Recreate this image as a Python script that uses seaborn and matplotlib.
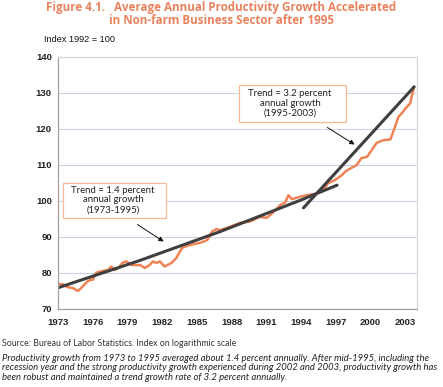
import matplotlib
matplotlib.use("Agg")
import matplotlib.pyplot as plt
from matplotlib.patches import Rectangle
from matplotlib.ticker import MultipleLocator
import seaborn as sns
import pandas as pd

# productivity index (1992 = 100)
years = [1973.0, 1973.4, 1973.8, 1974.3, 1974.7, 1975.0, 1975.5, 1975.8, 1976.0, 1976.3,
         1976.9, 1977.3, 1977.6, 1977.9, 1978.2, 1978.6, 1978.9, 1979.4, 1980.1, 1980.5,
         1980.9, 1981.2, 1981.5, 1981.8, 1982.2, 1982.8, 1983.2, 1983.7, 1984.1, 1984.7,
         1985.3, 1985.9, 1986.3, 1986.7, 1987.0, 1987.9, 1988.7, 1989.6, 1990.4, 1991.0,
         1991.5, 1992.2, 1992.6, 1992.9, 1993.2, 1993.9, 1994.5, 1995.4, 1995.9, 1996.3,
         1996.9, 1997.4, 1997.9, 1998.4, 1998.8, 1999.2, 1999.7, 2000.1, 2000.5, 2001.1,
         2001.7, 2001.9, 2002.4, 2002.7, 2003.0, 2003.4, 2003.75]
index = [76.9, 76.9, 76.1, 75.8, 75.0, 75.8, 77.5, 78.1, 78.1, 80.1,
         80.6, 80.8, 81.8, 80.8, 81.4, 82.9, 83.2, 82.2, 82.2, 81.4,
         82.2, 83.2, 82.8, 83.2, 81.8, 82.8, 84.1, 86.9, 87.5, 88.0,
         88.4, 89.2, 91.5, 92.2, 91.9, 92.9, 93.9, 94.3, 95.6, 95.3,
         96.6, 98.9, 99.5, 101.6, 100.5, 101.2, 101.6, 102.1, 102.9, 104.9,
         105.8, 106.9, 108.4, 109.3, 110.0, 111.9, 112.3, 114.2, 116.1, 116.9,
         117.1, 118.8, 123.4, 124.4, 125.7, 127.1, 131.8]

# trend lines
trend1_years = [1973.0, 1980.0, 1987.0, 1994.0, 1997.1]
trend1_vals = [75.9, 83.4, 91.5, 100.3, 104.4]
trend2_years = [1994.2, 2003.75]
trend2_vals = [98.1, 131.7]

xtick_years = list(range(1973, 2004, 3))
ytick_vals = list(range(70, 141, 10))

orange = "#ef8354"
title_orange = "#e9825d"
dark = "#3f3f3f"

sns.set_style("white")
plt.rcParams["font.family"] = ["Lato", "DejaVu Sans"]

W, H = 443, 387
fig = plt.figure(figsize=(W / 100, H / 100), dpi=100)
ax = fig.add_axes([58 / W, 1 - 309 / H, (417 - 58) / W, (309 - 57) / H])

df = pd.DataFrame({"year": years, "index": index})
sns.lineplot(data=df, x="year", y="index", ax=ax, color=orange, linewidth=1.8)
sns.lineplot(x=trend1_years, y=trend1_vals, ax=ax, color=dark, linewidth=2.2)
sns.lineplot(x=trend2_years, y=trend2_vals, ax=ax, color=dark, linewidth=2.2)

ax.set_xlim(1973, 2004)
ax.set_ylim(70, 140)
ax.set_xticks(xtick_years)
ax.set_xticklabels([str(y) for y in xtick_years], fontsize=6.8, fontweight="bold",
                   family=["Liberation Sans", "DejaVu Sans"])
ax.xaxis.set_minor_locator(MultipleLocator(0.25))
ax.set_yticks(ytick_vals)
ax.set_yticklabels([str(v) for v in ytick_vals], fontsize=6.8, fontweight="bold",
                   family=["Liberation Sans", "DejaVu Sans"])
ax.tick_params(axis="x", which="both", direction="out", length=2.5, width=0.6,
               color="#a0a0a0", pad=4, labelcolor="#222222")
ax.tick_params(axis="x", which="minor", length=2)
ax.tick_params(axis="y", which="major", direction="out", length=2.5, width=0.6,
               color="#a0a0a0", pad=2, labelcolor="#222222")
ax.grid(axis="y", color="#c9d3e6", linewidth=0.8)
ax.set_axisbelow(True)
ax.set_xlabel("")
ax.set_ylabel("")
for side in ["left", "bottom"]:
    ax.spines[side].set_color("#a0a0a0")
    ax.spines[side].set_linewidth(0.9)
for side in ["top", "right"]:
    ax.spines[side].set_color("#d6d6d6")
    ax.spines[side].set_linewidth(0.9)


def fx(px):
    return px / W


def fy(py):
    return 1 - py / H


# annotation boxes
for (x0, y0, x1, y1), label, cx, cy in [
    ((63, 183, 166, 218), "Trend = 1.4 percent\nannual growth\n(1973-1995)", 113, 200),
    ((239, 85, 346, 122), "Trend = 3.2 percent\nannual growth\n(1995-2003)", 290, 103),
]:
    fig.add_artist(Rectangle((fx(x0), fy(y1)), fx(x1 - x0), (y1 - y0) / H,
                             transform=fig.transFigure, facecolor="white",
                             edgecolor="#f4b999", linewidth=0.9, zorder=5))
    fig.text(fx(cx), fy(cy), label, ha="center", va="center", fontsize=6.9,
             color="#222222", linespacing=1.1, zorder=6)

for (sx, sy), (ex, ey) in [((135, 223), (166, 243)), ((325, 126), (357, 146))]:
    ax.annotate("", xy=(fx(ex), fy(ey)), xycoords="figure fraction",
                xytext=(fx(sx), fy(sy)), textcoords="figure fraction",
                arrowprops=dict(arrowstyle="-|>", color="#111111", lw=0.7,
                                mutation_scale=7))

fig.text(0.5, fy(14), "Figure 4.1.   Average Annual Productivity Growth Accelerated\n"
         "in Non-farm Business Sector after 1995", ha="center", va="center",
         fontsize=8.4, fontweight="bold", color=title_orange, linespacing=1.05,
         family=["Open Sans", "DejaVu Sans"])
fig.text(fx(44), fy(39), "Index 1992 = 100", ha="left", va="center", fontsize=6.6,
         color="#111111", family=["Liberation Sans", "DejaVu Sans"])

fig.text(fx(2), fy(344), "Source: Bureau of Labor Statistics. Index on logarithmic scale",
         ha="left", va="center", fontsize=6.3, color="#333333")
fig.text(fx(2), fy(368),
         "Productivity growth from 1973 to 1995 averaged about 1.4 percent annually. "
         "After mid-1995, including the\n"
         "recession year and the strong productivity growth experienced during 2002 and "
         "2003, productivity growth has\n"
         "been robust and maintained a trend growth rate of 3.2 percent annually.",
         ha="left", va="center", fontsize=6.85, style="italic", color="#222222",
         linespacing=1.1)

fig.savefig("out.png", dpi=100)
